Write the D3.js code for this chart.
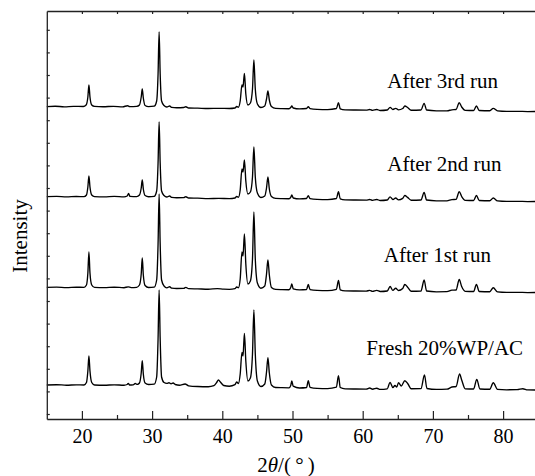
<!DOCTYPE html>
<html><head><meta charset="utf-8">
<script src="https://cdn.jsdelivr.net/npm/d3@7"></script>
<style>
body{margin:0;background:#fff}
svg{display:block}
text{font-family:"Liberation Serif","Times New Roman",serif;fill:#000}
</style>
</head><body><svg id="c" width="535" height="476"></svg>
<script>
// ---- data (2θ in degrees, intensity in a.u.) ----
const xMajorTicks = [20, 30, 40, 50, 60, 70, 80];
const xMinorTicks = [25, 35, 45, 55, 65, 75];
const xTopTicks = [20, 25, 30, 35, 40, 45, 50, 55, 60, 65, 70, 75, 80];
const seriesLabels = ["Fresh 20%WP/AC", "After 1st run", "After 2nd run", "After 3rd run"];
const labelAnchors = [[60.5, 64], [63.0, 157], [63.5, 248], [63.5, 331]];

const run3 = [[15,312.4],[16.2,312.8],[17.5,312.2],[18.8,312.6],[20.2,312.5],[20.6,314],[20.85,322],[21.0,334],[21.15,322],[21.4,314],[21.8,312.6],[23,312.3],[24.5,312.7],[25.8,312.2],[26.5,313.3],[26.8,312.4],[27.8,312.6],[28.2,314],[28.45,322],[28.6,330],[28.75,321],[29.0,313.5],[29.5,312.4],[30.3,312.8],[30.65,318],[30.85,345],[31.0,387],[31.15,345],[31.35,318],[31.7,313.5],[32.1,312],[32.5,313],[32.8,311.6],[33.5,311.3],[34.5,311.5],[34.8,312.3],[35.2,311],[36.5,310.8],[38,310.5],[39.5,310.7],[41,310.5],[41.8,311],[42.05,312.5],[42.3,311.8],[42.55,318],[42.8,334],[42.95,332],[43.15,345.7],[43.35,325],[43.65,314],[44.0,316],[44.3,330],[44.5,359],[44.7,330],[45.0,315],[45.5,311.5],[46.05,313],[46.3,320],[46.5,328],[46.7,319],[47.0,312.5],[47.6,310.6],[48.5,310.4],[49.5,310.3],[49.75,311.5],[49.9,313],[50.1,311],[51,310.1],[52.0,310.5],[52.25,312.3],[52.5,310.4],[53.5,309.6],[55,309.4],[56.25,310.5],[56.55,316.3],[56.8,310.2],[57.5,309.2],[59,309],[60.5,308.9],[61.0,309.5],[61.4,308.6],[62.0,309.5],[62.5,308.5],[63.5,309],[63.9,311.7],[64.3,309.5],[64.7,310.7],[65.1,309.2],[65.7,310.5],[66.0,313],[66.4,311.5],[66.9,308.8],[68.3,309],[68.75,315.7],[69.1,309],[70.5,308.2],[72.0,308.2],[72.7,309.2],[73.3,309.5],[73.75,316.3],[74.1,312],[74.6,308.7],[75.8,308.5],[76.2,313],[76.6,308.5],[78.1,308.3],[78.6,310.7],[79.2,308.1],[80.5,307.6],[82,307.7],[83.5,307.4],[85,307.5]];

const run2 = [[15,222.3],[16.4,222.6],[17.8,222.1],[19.2,222.5],[20.3,222.4],[20.65,224],[20.85,232],[21.0,243],[21.15,232],[21.4,224],[21.8,222.4],[23.2,222.2],[24.6,222.6],[26.0,222.1],[26.45,223],[26.65,225.5],[26.85,222.6],[27.8,222.4],[28.2,224],[28.45,231],[28.6,239],[28.75,230],[29.0,223.5],[29.5,222.3],[30.3,222.6],[30.65,228],[30.85,256],[31.0,297],[31.15,256],[31.35,228],[31.7,223.5],[32.1,222],[32.5,223],[32.8,221.6],[33.5,221.3],[34.5,221.4],[34.8,222.3],[35.2,221],[36.5,220.8],[38,220.4],[39.5,220.6],[41,220.4],[41.8,221],[42.05,222.5],[42.3,221.8],[42.55,229],[42.8,250],[42.95,247],[43.15,259],[43.35,238],[43.65,225],[44.0,227],[44.3,242],[44.5,272],[44.7,242],[45.0,226],[45.5,221.5],[46.05,223],[46.3,231],[46.5,242],[46.7,230],[47.0,222.5],[47.6,220.6],[48.5,220.4],[49.5,220.3],[49.75,221.7],[49.9,224],[50.1,221],[51,220.1],[52.0,220.5],[52.25,223.3],[52.5,220.4],[53.5,219.6],[55,219.4],[56.25,220.5],[56.55,227.3],[56.8,220.2],[57.5,219.2],[59,219],[60.5,218.9],[61.0,219.5],[61.4,218.6],[62.0,219.5],[62.5,218.5],[63.5,219],[63.9,222.2],[64.3,219.5],[64.7,221],[65.1,219.2],[65.7,220.6],[66.0,223.5],[66.4,221.6],[66.9,218.8],[68.3,219],[68.75,226.5],[69.1,219],[70.5,218.2],[72.0,218.2],[72.7,219.4],[73.3,219.6],[73.75,227.3],[74.1,222.5],[74.6,218.7],[75.8,218.5],[76.2,223.5],[76.6,218.5],[78.1,218.3],[78.6,221],[79.2,218.1],[80.5,217.6],[82,217.7],[83.5,217.4],[85,217.5]];

const run1 = [[15,131.6],[16.4,131.9],[17.8,131.4],[19.2,131.8],[20.3,131.7],[20.65,134],[20.85,146],[21.0,167],[21.15,146],[21.4,134],[21.8,131.6],[23.2,131.4],[24.6,131.8],[26.0,131.3],[26.6,132.2],[27.0,131.4],[27.8,131.7],[28.2,134],[28.45,145],[28.6,161],[28.75,144],[29.0,133.5],[29.5,131.5],[30.3,131.8],[30.65,139],[30.85,175],[31.0,225],[31.15,175],[31.35,139],[31.7,133],[32.1,131.2],[32.5,132.3],[32.8,130.8],[33.5,130.5],[34.5,130.6],[34.8,131.6],[35.2,130.3],[36.5,130.1],[38,129.8],[39.3,130.4],[40.2,129.8],[41,129.7],[41.8,130.3],[42.05,132],[42.3,131.3],[42.55,140],[42.8,167],[42.95,163],[43.15,185],[43.35,155],[43.65,135],[44.0,138],[44.3,160],[44.5,207],[44.7,160],[45.0,136],[45.5,130.8],[46.05,133],[46.3,145],[46.5,159],[46.7,144],[47.0,131.5],[47.6,129.6],[48.5,129.4],[49.5,129.3],[49.75,131.5],[49.9,135],[50.1,130.2],[51,129.1],[52.0,129.5],[52.25,134.5],[52.5,129.4],[53.5,128.6],[55,128.4],[56.25,129.7],[56.55,138.5],[56.8,129.2],[57.5,128.2],[59,128],[60.5,127.9],[61.0,128.6],[61.4,127.6],[62.0,128.6],[62.5,127.5],[63.5,128],[63.9,132.5],[64.3,128.6],[64.7,130.8],[65.1,128.5],[65.7,130.5],[66.0,134.5],[66.4,131.8],[66.9,127.8],[68.3,128],[68.75,139],[69.1,128],[70.5,127.2],[72.0,127.3],[72.7,128.8],[73.3,129],[73.75,139.5],[74.1,132.5],[74.6,127.7],[75.8,127.5],[76.2,134.5],[76.6,127.5],[78.1,127.3],[78.6,131.3],[79.2,127.1],[80.5,126.6],[82,126.7],[83.5,126.4],[85,126.5]];

const fresh = [[15,34],[16.4,34.3],[17.8,33.8],[19.2,34.2],[20.3,34],[20.65,36.5],[20.85,48],[21.0,63],[21.15,48],[21.4,36.5],[21.8,34],[23.2,33.8],[24.6,34.2],[26.0,33.8],[26.45,34.5],[26.6,35.7],[26.8,34],[27.3,34.2],[27.6,35.5],[27.9,34.6],[28.2,36],[28.45,46],[28.6,58.3],[28.75,45],[29.0,36],[29.5,34.5],[30.3,34.8],[30.65,42],[30.85,80],[31.0,129],[31.15,80],[31.35,42],[31.7,36.5],[32.1,35.6],[32.4,36.3],[32.7,35.2],[33.0,36],[33.3,34.5],[33.9,33.8],[34.7,35],[35.2,33.2],[36.5,32.5],[38.0,32.3],[38.8,33.3],[39.2,36.5],[39.45,39],[39.75,36.8],[40.2,33.5],[41.0,32.8],[41.8,34.3],[42.05,37],[42.3,35.5],[42.55,45],[42.8,66.7],[42.95,63],[43.15,85.7],[43.35,58],[43.65,38],[44.0,41],[44.3,65],[44.5,109],[44.7,65],[45.0,38],[45.5,32.5],[46.05,35],[46.3,47],[46.5,61.3],[46.7,46],[47.0,34],[47.6,31.5],[48.5,31.3],[49.5,31.2],[49.75,33.5],[49.9,38],[50.1,32.8],[51,31],[52.0,31.5],[52.25,38.3],[52.5,31.6],[53.5,30.6],[55,30.4],[56.25,31.8],[56.55,43.3],[56.8,31.5],[57.5,30.2],[59,30],[60.5,29.9],[61.0,31],[61.4,29.8],[62.0,30.8],[62.5,29.6],[63.5,30.2],[63.9,36.7],[64.3,31.5],[64.6,33.5],[64.85,32],[65.1,36.3],[65.5,33],[66.0,38.3],[66.45,35],[66.9,30.3],[68.3,30.4],[68.8,44],[69.15,30.5],[70.5,29.6],[72.0,29.8],[72.7,32],[73.3,32.5],[73.8,45],[74.1,39],[74.6,30.2],[75.8,30],[76.25,39.7],[76.7,30],[78.1,29.8],[78.6,36.3],[79.2,29.6],[80.5,29.2],[82,29.3],[82.8,30.3],[83.5,29.1],[85,29]];

const allSeries = [fresh, run1, run2, run3];

// ---- layout ----
const x = d3.scaleLinear().domain([15, 85]).range([46.8, 538.2]);
const y = d3.scaleLinear().domain([0, 408]).range([419, 11]);
const yTicks = d3.range(5, 400, 22.6);

const svg = d3.select("#c");

// traces
const line = d3.line().x(d => x(d[0])).y(d => y(d[1])).curve(d3.curveMonotoneX);
svg.append("g").selectAll("path").data(allSeries).join("path")
  .attr("d", line).attr("fill", "none").attr("stroke", "#000")
  .attr("stroke-width", 1.35).attr("stroke-linejoin", "round");

// axes
const axisStyle = g => {
  g.selectAll("path.domain").attr("stroke", "#222").attr("stroke-width", 1.3);
  g.selectAll(".tick line").attr("stroke", "#222").attr("stroke-width", 1.2);
};
svg.append("g").attr("transform", `translate(0,${y(0)})`)
  .call(d3.axisBottom(x).tickValues(xMinorTicks).tickSize(-4).tickFormat(""))
  .call(g => g.select(".domain").remove()).call(axisStyle);
svg.append("g").attr("transform", `translate(0,${y(0)})`)
  .call(d3.axisBottom(x).tickValues(xMajorTicks).tickSizeInner(-8).tickSizeOuter(0).tickPadding(10).tickFormat(d3.format("d")))
  .call(axisStyle)
  .call(g => g.selectAll("text").attr("font-size", 20).attr("font-family", "Liberation Serif"));
svg.append("g").attr("transform", `translate(0,${y(408)})`)
  .call(d3.axisTop(x).tickValues(xTopTicks).tickSizeInner(-3).tickSizeOuter(0).tickFormat(""))
  .call(axisStyle);
svg.append("g").attr("transform", `translate(${x(15)},0)`)
  .call(d3.axisLeft(y).tickValues(yTicks).tickSizeInner(-3).tickSizeOuter(0).tickFormat(""))
  .call(axisStyle);

// series labels
svg.append("g").selectAll("text").data(seriesLabels).join("text")
  .attr("x", (d, i) => x(labelAnchors[i][0]))
  .attr("y", (d, i) => y(labelAnchors[i][1]))
  .attr("font-size", 21).text(d => d);

// axis titles
const xt = svg.append("text").attr("x", 286).attr("y", 472).attr("text-anchor", "middle").attr("font-size", 21);
xt.append("tspan").text("2");
xt.append("tspan").attr("font-style", "italic").text("θ");
xt.append("tspan").text("/(\u2009°\u2009)");
svg.append("text").attr("transform", "translate(27,236) rotate(-90)")
  .attr("text-anchor", "middle").attr("font-size", 21).text("Intensity");
</script>
</body></html>
